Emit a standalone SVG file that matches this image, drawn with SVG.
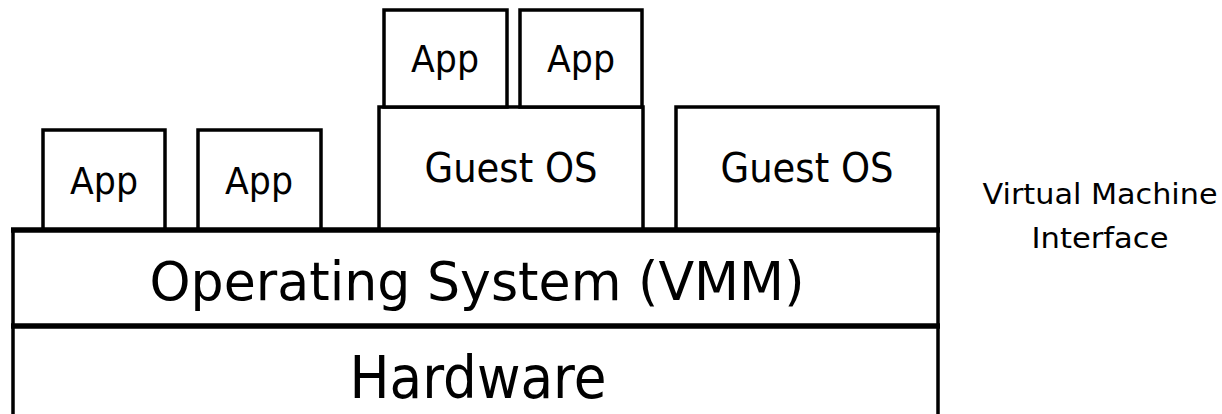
<svg xmlns="http://www.w3.org/2000/svg" width="1222" height="414" viewBox="0 0 1222 414">
  <style>
    .box { fill: #ffffff; stroke: #000000; stroke-width: 3.5; }
    .seam { stroke: #000000; stroke-width: 5.5; }
    .lbl { font-family: "DejaVu Sans", "Liberation Sans", sans-serif; fill: #000000; text-anchor: middle; }
  </style>
  <rect width="1222" height="414" fill="#ffffff"/>

  <!-- hardware layer -->
  <g id="hardware">
    <rect class="box" x="13" y="326" width="925" height="100"/>
    <text class="lbl" x="478" y="398" font-size="58" textLength="257" lengthAdjust="spacingAndGlyphs">Hardware</text>
  </g>

  <!-- host operating system / VMM -->
  <g id="vmm">
    <rect class="box" x="13" y="230" width="925" height="96"/>
    <text class="lbl" x="477" y="300" font-size="54" textLength="655" lengthAdjust="spacingAndGlyphs">Operating System (VMM)</text>
  </g>

  <!-- native applications -->
  <g id="app1">
    <rect class="box" x="43" y="130" width="122" height="100"/>
    <text class="lbl" x="104" y="194" font-size="37" textLength="68" lengthAdjust="spacingAndGlyphs">App</text>
  </g>
  <g id="app2">
    <rect class="box" x="198" y="130" width="123" height="100"/>
    <text class="lbl" x="259" y="194" font-size="37" textLength="68" lengthAdjust="spacingAndGlyphs">App</text>
  </g>

  <!-- first guest with its applications -->
  <g id="guest1">
    <rect class="box" x="379" y="107" width="264" height="123"/>
    <text class="lbl" x="511" y="182" font-size="41" textLength="173" lengthAdjust="spacingAndGlyphs">Guest OS</text>
  </g>
  <g id="guest1-app1">
    <rect class="box" x="384" y="10" width="123" height="97"/>
    <text class="lbl" x="445" y="72" font-size="37" textLength="68" lengthAdjust="spacingAndGlyphs">App</text>
  </g>
  <g id="guest1-app2">
    <rect class="box" x="520" y="10" width="122" height="97"/>
    <text class="lbl" x="581" y="72" font-size="37" textLength="68" lengthAdjust="spacingAndGlyphs">App</text>
  </g>

  <!-- second guest -->
  <g id="guest2">
    <rect class="box" x="676" y="107" width="262" height="123"/>
    <text class="lbl" x="807" y="182" font-size="41" textLength="173" lengthAdjust="spacingAndGlyphs">Guest OS</text>
  </g>

  <!-- heavier seams where the layers meet -->
  <g id="seams">
    <line class="seam" x1="11" y1="230" x2="940" y2="230"/>
    <line class="seam" x1="11" y1="326" x2="940" y2="326"/>
  </g>

  <!-- no arrows between the layers -->
  <g id="connectors"/>

  <!-- interface annotation -->
  <g id="vmi-label">
    <text class="lbl" x="1100" y="204" font-size="29" textLength="235" lengthAdjust="spacingAndGlyphs">Virtual Machine</text>
    <text class="lbl" x="1100" y="248" font-size="29" textLength="137" lengthAdjust="spacingAndGlyphs">Interface</text>
  </g>
</svg>
